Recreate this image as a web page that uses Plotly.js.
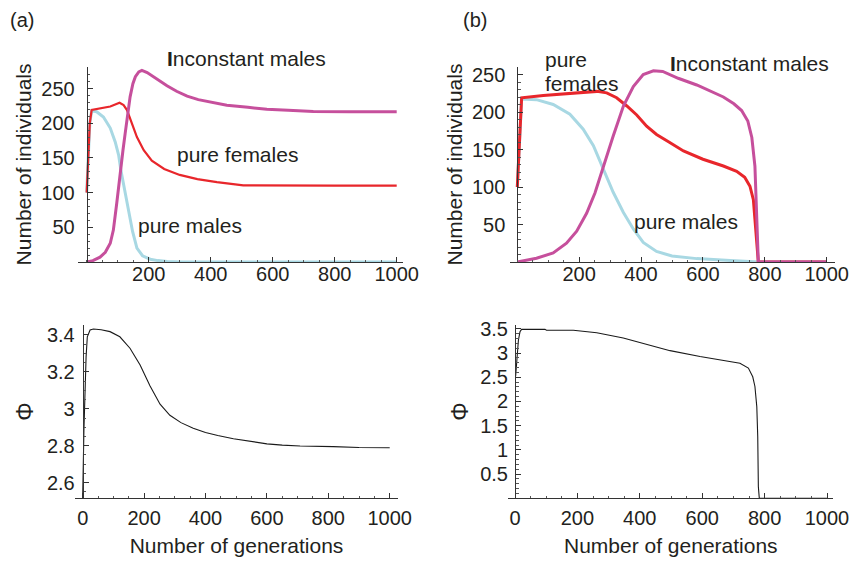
<!DOCTYPE html>
<html>
<head>
<meta charset="utf-8">
<script src="https://cdn.plot.ly/plotly-3.0.1.min.js"></script>
<style>
html, body { margin: 0; padding: 0; background: #fff; }
#chart { width: 861px; height: 562px; }
</style>
</head>
<body>
<div id="chart"></div>
<script>
// ---------- Panel (a), populations ----------
const genA_pm = [0, 5, 10, 16, 32, 54, 76, 92, 103, 110, 124, 135, 148, 162, 180, 205, 230, 260, 300, 1000];
const pureMalesA = [100, 150, 200, 218, 216.5, 209, 193, 173, 154, 133, 98, 72, 44, 20, 9, 4, 2, 0.7, 0, 0];
const genA_pf = [0, 5, 10, 16, 43, 76, 106, 119, 130, 146, 162, 184, 210, 250, 300, 357, 420, 505, 600, 800, 1000];
const pureFemalesA = [100, 150, 200, 219, 221.5, 224, 229.5, 226, 219, 200, 180, 161, 146, 134, 125.5, 119.5, 115, 110.5, 110, 110, 110];
const genA_im = [0, 20, 43, 60, 76, 86, 97, 103, 108, 117, 124, 133, 140, 149, 157, 168, 178, 195, 215, 240, 259, 290, 324, 360, 408, 452, 520, 581, 650, 731, 850, 1000];
const inconstantA = [0, 2, 7, 14, 27, 46, 85, 108, 133, 161, 185, 212, 238, 257, 267, 274, 276, 273, 267, 260, 254, 246, 239, 234, 230, 226, 223, 220, 218.5, 217, 216.5, 216.5];

// ---------- Panel (b), populations ----------
const genB_pm = [0, 5, 10, 14, 62, 116, 170, 213, 246, 278, 310, 343, 375, 407, 450, 500, 580, 688, 775, 782, 1000];
const pureMalesB = [100, 150, 200, 217.5, 216.5, 210, 197, 177, 155, 125, 93, 66, 44, 26, 14, 8, 4.5, 2, 1, 0, 0];
const genB_pf = [0, 5, 10, 14, 84, 192, 257, 289, 321, 354, 386, 418, 450, 490, 537, 600, 666, 709, 735, 752, 763, 768, 774, 779, 1000];
const pureFemalesB = [100, 150, 200, 219, 222, 225.5, 227.5, 225.5, 219, 208, 196, 181, 170, 160, 148, 137, 128, 121, 113, 101, 83, 57, 21, 0, 0];
const genB_im = [0, 30, 62, 116, 159, 192, 224, 251, 278, 310, 343, 375, 407, 440, 470, 520, 580, 623, 666, 700, 725, 745, 758, 768, 774, 779, 1000];
const inconstantB = [0, 2, 5, 12, 25, 41, 65, 92, 128, 168, 208, 234, 250, 255, 254, 245, 236, 228, 220, 211, 202, 188, 166, 128, 70, 0, 0];

// ---------- Phi ----------
const genA_phi = [0, 4, 11, 15, 24, 35, 60, 89, 121, 154, 187, 219, 252, 284, 320, 360, 400, 440, 491, 550, 600, 650, 708, 816, 900, 1000];
const phiA = [2.53, 2.885, 3.28, 3.39, 3.427, 3.432, 3.428, 3.418, 3.39, 3.328, 3.237, 3.125, 3.025, 2.965, 2.925, 2.895, 2.872, 2.855, 2.838, 2.822, 2.81, 2.803, 2.798, 2.795, 2.79, 2.789];
const genB_phi = [2, 7.5, 11, 16, 21, 96, 101, 187, 262, 347, 411, 497, 593, 678, 721, 748, 762, 769, 775, 778, 780, 783, 1000];
const phiB = [2.52, 3.0, 3.27, 3.44, 3.49, 3.49, 3.47, 3.47, 3.42, 3.31, 3.20, 3.05, 2.93, 2.84, 2.79, 2.69, 2.51, 2.31, 1.89, 1.27, 0.24, 0, 0];

// ---------- tick labels ----------
const topXTicks = [200, 400, 600, 800, 1000];
const botXTicks = [0, 200, 400, 600, 800, 1000];
const popYTicks = [50, 100, 150, 200, 250];
const phiATicks = [2.6, 2.8, 3, 3.2, 3.4];
const phiATickText = ['2.6', '2.8', '3', '3.2', '3.4'];
const phiBTicks = [0.5, 1, 1.5, 2, 2.5, 3, 3.5];
const phiBTickText = ['0.5', '1', '1.5', '2', '2.5', '3', '3.5'];

const W = 861, H = 562;
const FONT = 'Liberation Sans, Arial, Helvetica, sans-serif';
const TXT = '#231f20';
const C_MAG = '#c64f9c', C_RED = '#e8262b', C_BLUE = '#a8d8e3';

function px(x) { return x / W; }
function py(y) { return 1 - y / H; }

function xAx(domL, domR, zeroPx, scale, anchor, ticks, labelStandoff, title) {
  const a = {
    domain: [px(domL), px(domR)],
    range: [(domL - zeroPx) / scale, (domR - zeroPx) / scale],
    anchor: anchor,
    showgrid: false, zeroline: false,
    showline: true, linecolor: '#333', linewidth: 1,
    ticks: 'inside', ticklen: 5, tickcolor: '#333', tickwidth: 1,
    tickmode: 'array', tickvals: ticks, ticktext: ticks.map(String),
    tickfont: {family: FONT, size: 20, color: TXT},
    ticklabelstandoff: labelStandoff,
    minor: {ticks: 'inside', ticklen: 2.5, tickcolor: '#555', tick0: 0, dtick: 50, showgrid: false},
    fixedrange: true
  };
  if (title) a.title = {text: title, font: {family: FONT, size: 21, color: TXT}, standoff: 10};
  return a;
}
function yAx(domB, domT, zeroPx, yr, ticks, ticktext, minorDt, labelStandoff, title, titleSize, standoff) {
  return {
    domain: [py(domB), py(domT)],
    range: yr,
    anchor: 'free', position: px(zeroPx),
    showgrid: false, zeroline: false,
    showline: true, linecolor: '#333', linewidth: 1,
    ticks: 'inside', ticklen: 5, tickcolor: '#333', tickwidth: 1,
    tickmode: 'array', tickvals: ticks, ticktext: ticktext,
    tickfont: {family: FONT, size: 20, color: TXT},
    ticklabelstandoff: labelStandoff,
    minor: {ticks: 'inside', ticklen: 2.5, tickcolor: '#555', tick0: 0, dtick: minorDt, showgrid: false},
    title: {text: title, font: {family: FONT, size: titleSize, color: TXT}, standoff: standoff},
    fixedrange: true
  };
}

function line(x, y, color, width, xa, ya, name) {
  return {x: x, y: y, type: 'scatter', mode: 'lines', name: name,
          line: {color: color, width: width}, xaxis: xa, yaxis: ya,
          showlegend: false, hoverinfo: 'skip'};
}

const data = [
  line(genA_pm, pureMalesA, C_BLUE, 3, 'x', 'y', 'pure males'),
  line(genA_pf, pureFemalesA, C_RED, 2.2, 'x', 'y', 'pure females'),
  line(genA_im, inconstantA, C_MAG, 3, 'x', 'y', 'Inconstant males'),
  line(genB_pm, pureMalesB, C_BLUE, 3, 'x2', 'y2', 'pure males'),
  line(genB_pf, pureFemalesB, C_RED, 3, 'x2', 'y2', 'pure females'),
  line(genB_im, inconstantB, C_MAG, 3, 'x2', 'y2', 'Inconstant males'),
  line(genA_phi, phiA, '#1a1a1a', 1.1, 'x3', 'y3', 'Φ'),
  line(genB_phi, phiB, '#1a1a1a', 1.1, 'x4', 'y4', 'Φ')
];

function ann(text, x, y, opts) {
  return Object.assign({
    text: text, x: px(x), y: py(y), xref: 'paper', yref: 'paper',
    xanchor: 'center', yanchor: 'middle', showarrow: false,
    font: {family: FONT, size: 21, color: TXT}
  }, opts || {});
}

const layout = {
  width: W, height: H,
  margin: {l: 0, r: 0, t: 0, b: 0},
  paper_bgcolor: '#fff', plot_bgcolor: 'rgba(0,0,0,0)',
  showlegend: false,
  xaxis: xAx(78, 403, 86.7, 0.31, 'y', topXTicks, -6, null),
  yaxis: yAx(262, 67, 86.7, [0, 281], popYTicks, popYTicks.map(String), 10, 8, 'Number of individuals', 21, 2),
  xaxis2: xAx(510, 835, 517.3, 0.3094, 'y2', topXTicks, -6, null),
  yaxis2: yAx(262, 67, 517.3, [0, 260], popYTicks, popYTicks.map(String), 10, 8, 'Number of individuals', 21, 2),
  xaxis3: xAx(75, 398, 82.7, 0.307, 'y3', botXTicks, 2, 'Number of generations'),
  yaxis3: yAx(498.3, 325, 82.7, [2.515, 3.454], phiATicks, phiATickText, 0.05, 4, 'Φ', 23, 5),
  xaxis4: xAx(508.3, 833.3, 515, 0.312, 'y4', botXTicks, 2, 'Number of generations'),
  yaxis4: yAx(498.3, 325, 515, [0, 3.58], phiBTicks, phiBTickText, 0.1, 3, 'Φ', 23, 4),
  annotations: [
    ann('(a)', 22, 20, {font: {family: FONT, size: 20, color: TXT}}),
    ann('(b)', 475, 20, {font: {family: FONT, size: 20, color: TXT}}),
    ann('<b>I</b>nconstant males', 247, 58),
    ann('pure females', 237, 155),
    ann('pure males', 190, 225),
    ann('<b>I</b>nconstant males', 749, 63),
    ann('pure', 543, 60, {xanchor: 'left'}),
    ann('females', 543, 83, {xanchor: 'left'}),
    ann('pure males', 686, 222)
  ]
};

Plotly.newPlot('chart', data, layout, {staticPlot: true, displayModeBar: false});
</script>
</body>
</html>
